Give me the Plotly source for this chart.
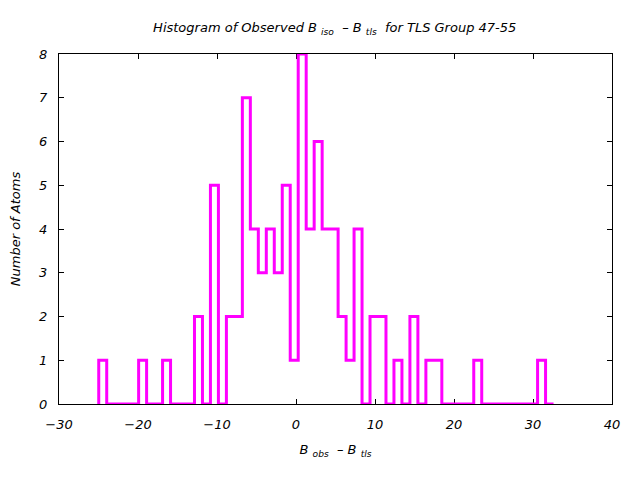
import numpy as np
import plotly.graph_objects as go

# Histogram data
bin_start = -24.97
bin_width = 1.01
counts = [1, 0, 0, 0, 0, 1, 0, 0, 1, 0, 0, 0, 2, 0, 5, 0, 2, 2, 7, 4,
          3, 4, 3, 5, 1, 8, 4, 6, 4, 4, 2, 1, 4, 0, 2, 2, 0, 1, 0, 2,
          0, 1, 1, 0, 0, 0, 0, 1, 0, 0, 0, 0, 0, 0, 0, 1, 0]
x_ticks = [-30, -20, -10, 0, 10, 20, 30, 40]
y_ticks = [0, 1, 2, 3, 4, 5, 6, 7, 8]

edges = bin_start + bin_width * np.arange(len(counts) + 1)
xs = [edges[0]] + list(edges[:-1]) + [edges[-1]]
ys = [0] + counts + [counts[-1]]

font_fam = "DejaVu Sans"

def f(size):
    return dict(family=font_fam, size=size, color="black", style="italic")

fig = go.Figure()
fig.add_trace(go.Scatter(
    x=xs, y=ys, mode="lines", line=dict(color="#ff00ff", width=3, shape="hv"),
    cliponaxis=False, showlegend=False, hoverinfo="skip"))

axis_common = dict(
    showline=True, linecolor="black", linewidth=1, mirror="allticks",
    ticks="inside", ticklen=5, tickcolor="black", tickwidth=1,
    showgrid=False, zeroline=False, layer="below traces",
    tickfont=f(13),
)

fig.update_layout(
    width=640, height=480,
    margin=dict(l=59, r=28, t=54, b=76),
    paper_bgcolor="white", plot_bgcolor="white",
    title=dict(
        text="Histogram of Observed B <sub>iso</sub>  – B <sub>tls</sub>  for TLS Group 47-55",
        x=0.523, xanchor="center", y=0.943, yanchor="middle",
        font=f(13)),
    xaxis=dict(range=[-30, 40], tickvals=x_ticks, ticklabelstandoff=8, **axis_common,
               title=dict(text="B <sub>obs</sub>  – B <sub>tls</sub>", standoff=14, font=f(13))),
    yaxis=dict(range=[0, 8], tickvals=y_ticks, ticklabelstandoff=8, **axis_common,
               title=dict(text="Number of Atoms", standoff=15, font=f(13))),
)

fig.write_html("out.html")
